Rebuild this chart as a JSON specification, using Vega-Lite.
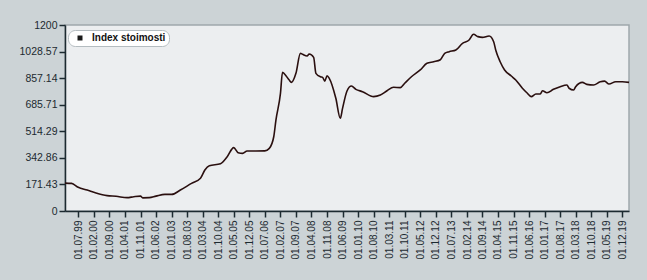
{
  "$schema": "https://vega.github.io/schema/vega-lite/v6.json",
  "width": 564,
  "height": 186,
  "autosize": "none",
  "padding": {"left": 65, "top": 25, "right": 18, "bottom": 69},
  "background": "#ccd3d6",
  "config": {
    "view": {"fill": "#eceef0", "stroke": "#9ea8ac", "strokeWidth": 1.5},
    "font": "Liberation Sans"
  },
  "data": {
    "values": [
      {"date": "1999-01-01", "value": 180},
      {"date": "1999-04-01", "value": 178},
      {"date": "1999-07-01", "value": 153},
      {"date": "1999-11-01", "value": 135},
      {"date": "2000-03-01", "value": 116},
      {"date": "2000-08-01", "value": 99},
      {"date": "2000-12-01", "value": 95},
      {"date": "2001-05-01", "value": 86},
      {"date": "2001-08-01", "value": 92},
      {"date": "2001-11-01", "value": 96},
      {"date": "2001-12-01", "value": 85},
      {"date": "2002-03-01", "value": 86},
      {"date": "2002-06-01", "value": 96},
      {"date": "2002-10-01", "value": 107},
      {"date": "2003-01-01", "value": 107},
      {"date": "2003-05-01", "value": 135},
      {"date": "2003-10-01", "value": 178},
      {"date": "2004-02-01", "value": 211},
      {"date": "2004-04-01", "value": 264},
      {"date": "2004-06-01", "value": 292},
      {"date": "2004-11-01", "value": 305},
      {"date": "2005-02-01", "value": 350},
      {"date": "2005-05-01", "value": 409},
      {"date": "2005-07-01", "value": 376},
      {"date": "2005-09-01", "value": 372},
      {"date": "2005-11-01", "value": 387},
      {"date": "2006-03-01", "value": 387},
      {"date": "2006-07-01", "value": 388},
      {"date": "2006-09-01", "value": 404},
      {"date": "2006-11-01", "value": 479},
      {"date": "2006-12-01", "value": 587},
      {"date": "2007-02-01", "value": 759},
      {"date": "2007-03-01", "value": 895},
      {"date": "2007-04-01", "value": 882},
      {"date": "2007-06-01", "value": 845},
      {"date": "2007-07-01", "value": 830},
      {"date": "2007-09-01", "value": 888},
      {"date": "2007-11-01", "value": 1017},
      {"date": "2007-12-01", "value": 1011},
      {"date": "2008-02-01", "value": 1000},
      {"date": "2008-03-01", "value": 1013},
      {"date": "2008-05-01", "value": 991},
      {"date": "2008-06-01", "value": 888},
      {"date": "2008-08-01", "value": 866},
      {"date": "2008-09-01", "value": 862},
      {"date": "2008-10-01", "value": 838},
      {"date": "2008-11-01", "value": 873},
      {"date": "2008-12-01", "value": 856},
      {"date": "2009-03-01", "value": 727},
      {"date": "2009-05-01", "value": 598},
      {"date": "2009-06-01", "value": 662},
      {"date": "2009-08-01", "value": 774},
      {"date": "2009-10-01", "value": 806},
      {"date": "2009-12-01", "value": 785},
      {"date": "2010-03-01", "value": 770},
      {"date": "2010-08-01", "value": 738},
      {"date": "2010-11-01", "value": 748},
      {"date": "2011-02-01", "value": 776},
      {"date": "2011-05-01", "value": 798},
      {"date": "2011-08-01", "value": 796},
      {"date": "2011-10-01", "value": 824},
      {"date": "2012-01-01", "value": 866},
      {"date": "2012-05-01", "value": 910},
      {"date": "2012-08-01", "value": 953},
      {"date": "2012-11-01", "value": 963},
      {"date": "2013-02-01", "value": 976},
      {"date": "2013-04-01", "value": 1017},
      {"date": "2013-06-01", "value": 1028},
      {"date": "2013-09-01", "value": 1039},
      {"date": "2013-12-01", "value": 1082},
      {"date": "2014-03-01", "value": 1103},
      {"date": "2014-05-01", "value": 1140},
      {"date": "2014-07-01", "value": 1125},
      {"date": "2014-09-01", "value": 1120},
      {"date": "2014-12-01", "value": 1129},
      {"date": "2015-02-01", "value": 1092},
      {"date": "2015-03-01", "value": 1039},
      {"date": "2015-05-01", "value": 963},
      {"date": "2015-07-01", "value": 910},
      {"date": "2015-10-01", "value": 871},
      {"date": "2015-12-01", "value": 845},
      {"date": "2016-03-01", "value": 792},
      {"date": "2016-05-01", "value": 763},
      {"date": "2016-07-01", "value": 738},
      {"date": "2016-09-01", "value": 755},
      {"date": "2016-11-01", "value": 755},
      {"date": "2016-12-01", "value": 776},
      {"date": "2017-02-01", "value": 763},
      {"date": "2017-05-01", "value": 785},
      {"date": "2017-08-01", "value": 802},
      {"date": "2017-11-01", "value": 813},
      {"date": "2017-12-01", "value": 792},
      {"date": "2018-02-01", "value": 781},
      {"date": "2018-03-01", "value": 802},
      {"date": "2018-06-01", "value": 830},
      {"date": "2018-08-01", "value": 817},
      {"date": "2018-11-01", "value": 813},
      {"date": "2019-02-01", "value": 834},
      {"date": "2019-04-01", "value": 838},
      {"date": "2019-06-01", "value": 819},
      {"date": "2019-09-01", "value": 834},
      {"date": "2019-12-01", "value": 834},
      {"date": "2020-03-01", "value": 830}
    ]
  },
  "mark": {"type": "line", "strokeWidth": 1.6, "interpolate": "monotone"},
  "encoding": {
    "x": {
      "field": "date",
      "type": "temporal",
      "scale": {
        "type": "utc",
        "domain": [
          {"year": 1999, "month": 1, "date": 1, "utc": true},
          {"year": 2020, "month": 3, "date": 1, "utc": true}
        ]
      },
      "axis": {
        "title": null,
        "format": "%d.%m.%y",
        "labelAngle": -90,
        "labelAlign": "right",
        "labelBaseline": "middle",
        "labelFontSize": 10,
        "labelColor": "#1c2a30",
        "labelPadding": 3,
        "labelOverlap": false,
        "labelFlush": false,
        "grid": false,
        "domainColor": "#1c2a30",
        "domainWidth": 1.5,
        "tickColor": "#1c2a30",
        "tickWidth": 1.5,
        "tickSize": 6,
        "values": [
          {"year": 1999, "month": 7, "date": 1, "utc": true},
          {"year": 2000, "month": 2, "date": 1, "utc": true},
          {"year": 2000, "month": 9, "date": 1, "utc": true},
          {"year": 2001, "month": 4, "date": 1, "utc": true},
          {"year": 2001, "month": 11, "date": 1, "utc": true},
          {"year": 2002, "month": 6, "date": 1, "utc": true},
          {"year": 2003, "month": 1, "date": 1, "utc": true},
          {"year": 2003, "month": 8, "date": 1, "utc": true},
          {"year": 2004, "month": 3, "date": 1, "utc": true},
          {"year": 2004, "month": 10, "date": 1, "utc": true},
          {"year": 2005, "month": 5, "date": 1, "utc": true},
          {"year": 2005, "month": 12, "date": 1, "utc": true},
          {"year": 2006, "month": 7, "date": 1, "utc": true},
          {"year": 2007, "month": 2, "date": 1, "utc": true},
          {"year": 2007, "month": 9, "date": 1, "utc": true},
          {"year": 2008, "month": 4, "date": 1, "utc": true},
          {"year": 2008, "month": 11, "date": 1, "utc": true},
          {"year": 2009, "month": 6, "date": 1, "utc": true},
          {"year": 2010, "month": 1, "date": 1, "utc": true},
          {"year": 2010, "month": 8, "date": 1, "utc": true},
          {"year": 2011, "month": 3, "date": 1, "utc": true},
          {"year": 2011, "month": 10, "date": 1, "utc": true},
          {"year": 2012, "month": 5, "date": 1, "utc": true},
          {"year": 2012, "month": 12, "date": 1, "utc": true},
          {"year": 2013, "month": 7, "date": 1, "utc": true},
          {"year": 2014, "month": 2, "date": 1, "utc": true},
          {"year": 2014, "month": 9, "date": 1, "utc": true},
          {"year": 2015, "month": 4, "date": 1, "utc": true},
          {"year": 2015, "month": 11, "date": 1, "utc": true},
          {"year": 2016, "month": 6, "date": 1, "utc": true},
          {"year": 2017, "month": 1, "date": 1, "utc": true},
          {"year": 2017, "month": 8, "date": 1, "utc": true},
          {"year": 2018, "month": 3, "date": 1, "utc": true},
          {"year": 2018, "month": 10, "date": 1, "utc": true},
          {"year": 2019, "month": 5, "date": 1, "utc": true},
          {"year": 2019, "month": 12, "date": 1, "utc": true}
        ]
      }
    },
    "y": {
      "field": "value",
      "type": "quantitative",
      "scale": {"domain": [0, 1200], "nice": false},
      "axis": {
        "title": null,
        "values": [0, 171.43, 342.86, 514.29, 685.71, 857.14, 1028.57, 1200],
        "format": ".2~f",
        "labelFontSize": 10.5,
        "labelColor": "#1c2a30",
        "labelPadding": 2,
        "grid": false,
        "domainColor": "#1c2a30",
        "domainWidth": 1.5,
        "tickColor": "#1c2a30",
        "tickWidth": 1.5,
        "tickSize": 6
      }
    },
    "color": {
      "datum": "Index stoimosti",
      "type": "nominal",
      "scale": {"range": ["#2a0f0f"]},
      "legend": {
        "title": null,
        "orient": "none",
        "legendX": 3,
        "legendY": 5,
        "direction": "vertical",
        "fillColor": "#ffffff",
        "strokeColor": "#b4bcc0",
        "cornerRadius": 7,
        "padding": 3,
        "symbolType": "square",
        "symbolSize": 25,
        "symbolOffset": 4,
        "labelFontSize": 10,
        "labelFontWeight": "bold",
        "labelColor": "#111111",
        "labelOffset": 7,
        "labelLimit": 200,
        "encode": {
          "symbols": {"update": {"fill": {"value": "#1a1a1a"}, "stroke": {"value": "#1a1a1a"}, "strokeWidth": {"value": 0}}},
          "legend": {"update": {"width": {"value": 95}}}
        }
      }
    }
  }
}
